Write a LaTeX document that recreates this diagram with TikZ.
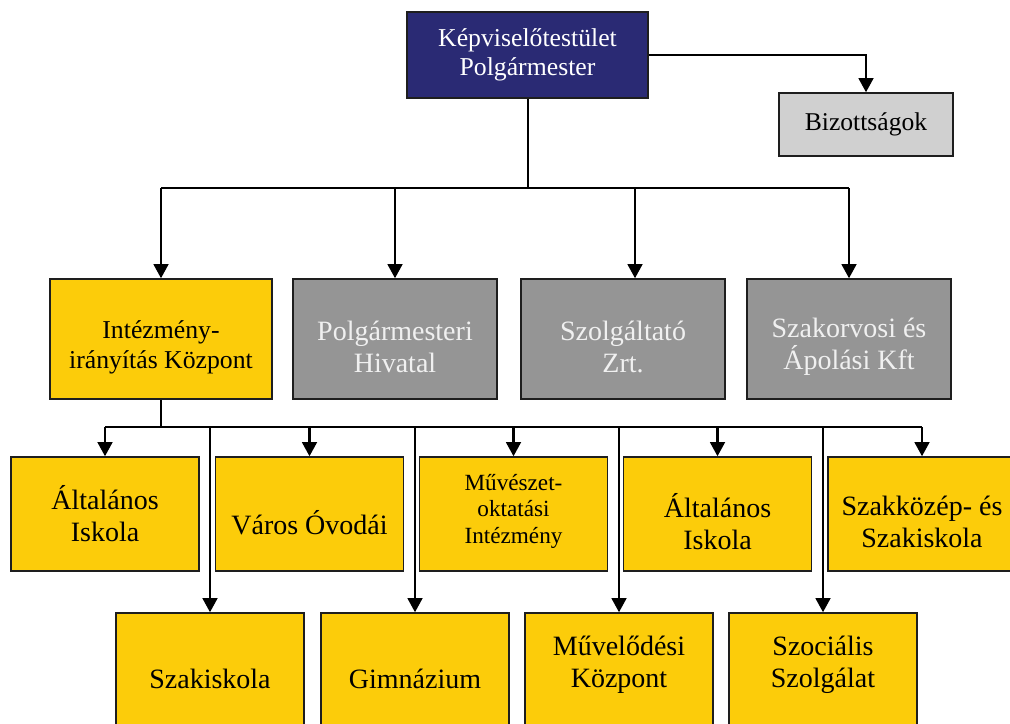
\documentclass[tikz,border=0pt]{standalone}
\usepackage{fontspec}
\setmainfont{Liberation Serif}
\usetikzlibrary{arrows.meta,calc}

\definecolor{navy}{RGB}{42,42,116}
\definecolor{gold}{RGB}{252,204,10}
\definecolor{midgray}{RGB}{149,149,149}
\definecolor{lightgray}{RGB}{208,208,208}
\definecolor{edge}{RGB}{30,30,30}

\tikzset{
  box/.style={draw=edge, line width=1.15pt, inner sep=0pt, align=center},
  topbox/.style={box, fill=navy, text=white, minimum width=180.75pt, minimum height=64.5pt,
    font=\fontsize{19.3}{22}\selectfont},
  comm/.style={box, fill=lightgray, minimum width=130.5pt, minimum height=47.25pt,
    font=\fontsize{19.2}{22}\selectfont},
  ctrbox/.style={box, fill=gold, minimum width=166.5pt, minimum height=90pt},
  firm/.style={box, fill=midgray, minimum width=153pt, minimum height=90pt},
  unit/.style={box, fill=gold, minimum width=141pt, minimum height=85.5pt},
  unitlow/.style={box, fill=gold, minimum width=141pt, minimum height=99pt},
  lbl/.style={align=center, font=\fontsize{21}{24}\selectfont},
  lblw/.style={lbl, text=white!94!black},
  arr/.style={line width=1.7pt, -{Triangle[width=11pt,length=10.5pt]}},
  wire/.style={line width=1.7pt}
}

\begin{document}
\begin{tikzpicture}[x=0.75pt,y=-0.75pt]
\useasboundingbox (0,0) rectangle (1010,724);
\clip (0,0) rectangle (1010,724);

% leadership and committees
\node[topbox] (top) at (527.5,55) {Képviselőtestület\\Polgármester};
\node[comm] (biz) at (866,124.5) {Bizottságok};

% second level
\node[ctrbox, label={[lbl, font=\fontsize{19.3}{22.5}\selectfont, yshift=-6pt]center:{Intézmény-\\irányítás Központ}}] (kp) at (161,339) {};
\node[firm, label={[lblw, yshift=-6pt]center:{Polgármesteri\\Hivatal}}] (hiv) at (395,339) {};
\node[firm, label={[lblw, yshift=-6pt]center:{Szolgáltató\\Zrt.}}] (zrt) at (623,339) {};
\node[firm, label={[lblw, yshift=-6pt]center:{Szakorvosi és\\Ápolási Kft}}] (kft) at (849,339) {};

% third level, upper row
\node[unit, label={[lbl]center:{Általános\\Iskola}}] (u1) at (105,514) {};
\node[unit, label={[lbl, yshift=-6.5pt]center:{Város Óvodái}}] (u2) at (309.5,514) {};
\node[unit, label={[lbl, font=\fontsize{17.4}{20}\selectfont, yshift=2pt]center:{Művészet-\\oktatási\\Intézmény}}] (u3) at (513.5,514) {};
\node[unit, label={[lbl, yshift=-6pt]center:{Általános\\Iskola}}] (u4) at (717.5,514) {};
\node[unit, label={[lbl, yshift=-6pt]center:{Szakközép- és\\Szakiskola}}] (u5) at (922,514) {};

% third level, lower row
\node[unitlow, label={[lbl]center:{Szakiskola}}] (l1) at (210,679) {};
\node[unitlow, label={[lbl]center:{Gimnázium}}] (l2) at (415,679) {};
\node[unitlow, label={[lbl, yshift=11pt]center:{Művelődési\\Központ}}] (l3) at (619,679) {};
\node[unitlow, label={[lbl, yshift=11pt]center:{Szociális\\Szolgálat}}] (l4) at (823,679) {};

% junction points of the connector buses
\coordinate (hub1) at (528,188);
\coordinate (zrtin) at (635,188);
\coordinate (hub2) at (161,427);

% connectors from the top
\draw[arr] (top.east) -| (biz.north);
\draw[wire] (top.south -| hub1) -- (hub1);
\draw[wire] (kp.north |- hub1) -- (kft.north |- hub1);
\draw[arr] (kp.north |- hub1) -- (kp.north);
\draw[arr] (hiv.north |- hub1) -- (hiv.north);
\draw[arr] (zrtin) -- (zrtin |- zrt.north);
\draw[arr] (kft.north |- hub1) -- (kft.north);

% connectors from the institution centre
\draw[wire] (kp.south) -- (hub2);
\draw[wire] (u1.north |- hub2) -- (u5.north |- hub2);
\foreach \n in {u1,u2,u3,u4,u5,l1,l2,l3,l4}
  \draw[arr] (\n.north |- hub2) -- (\n.north);
\end{tikzpicture}
\end{document}
